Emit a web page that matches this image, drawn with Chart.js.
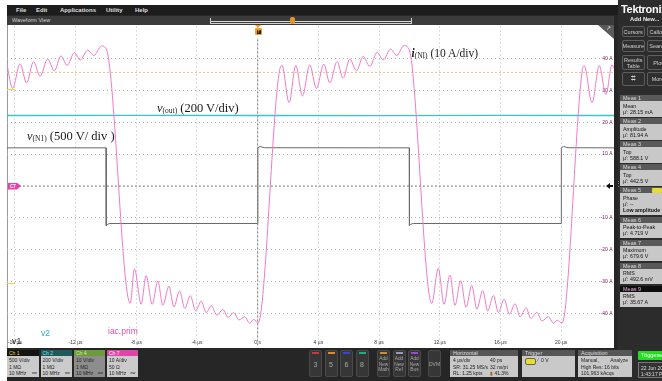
<!DOCTYPE html>
<html><head><meta charset="utf-8">
<script src="https://cdn.jsdelivr.net/npm/chart.js@4.4.1/dist/chart.umd.min.js"></script>
<style>
body{margin:0;width:662px;height:381px;overflow:hidden;background:#fff;position:relative;font-family:'Liberation Sans',Arial,sans-serif}
.a{position:absolute}
.mb{position:absolute;top:6px;font-size:6px;font-weight:bold;color:#ddd;line-height:8px}
.ser{position:absolute;font-family:'Liberation Serif','DejaVu Serif',serif;color:#1a1a1a;white-space:nowrap;line-height:13px}
.ser sub{font-size:7.5px;vertical-align:-1px}
.ch{position:absolute;top:350px;height:27px}
.ch .h{height:6px;font-size:5px;line-height:6px;padding-left:2px}
.ch .b{height:21px;background:#cbcbcb;font-size:5px;line-height:6.5px;color:#222;padding:1px 2px;box-sizing:border-box;position:relative}
.btn{position:absolute;top:350px;height:27px;background:#363636;border:1px solid #4a4a4a;border-radius:2px;box-sizing:border-box;color:#aaa;text-align:center}
.btn .bar{position:absolute;top:1px;left:2px;right:2px;height:1.5px}
.info{position:absolute;top:350px;height:27px}
.info .h{height:6px;background:#565656;color:#ddd;font-size:5.5px;line-height:6px;padding-left:3px}
.info .b{height:21px;background:#c9c9c9;color:#222;font-size:5px;line-height:6.5px;padding:1px 3px;box-sizing:border-box;position:relative;white-space:nowrap}
.rb{position:absolute;border:1px solid #5e5e5e;border-radius:2px;background:#2f2f2f;color:#cfcfcf;font-size:5.5px;text-align:center;box-sizing:border-box;display:flex;align-items:center;justify-content:center;line-height:6px}
.meas .h{height:6px;background:#595959;color:#ddd;font-size:5.5px;line-height:6px;padding-left:3px;position:relative}
.meas .b{height:15.5px;background:#c8c8c8;color:#111;font-size:5.3px;line-height:6.3px;padding:1.5px 3px;box-sizing:border-box;margin-bottom:1.5px;white-space:nowrap}
</style>
</head><body>
<div class="a" style="left:7px;top:5px;width:655px;height:376px;background:#262626"></div>
<div class="a" style="left:618px;top:0;width:44px;height:381px;background:#2c2c2c"></div>
<!-- menu bar -->
<div class="a" style="left:7px;top:5px;width:611px;height:10px;background:#1d1d1d"></div>
<div class="mb" style="left:16px">File</div>
<div class="mb" style="left:36px">Edit</div>
<div class="mb" style="left:60px">Applications</div>
<div class="mb" style="left:106px">Utility</div>
<div class="mb" style="left:135px">Help</div>
<!-- waveform view bar -->
<div class="a" style="left:7px;top:16px;width:607px;height:9px;background:#3b3b3b"></div>
<div class="a" style="left:12px;top:17px;font-size:5.5px;line-height:7px;color:#cfcfcf">Waveform View</div>
<div class="a" style="left:210px;top:17.5px;width:200px;height:5px;border:1px solid #cfcfcf;border-top:none;box-sizing:content-box"></div>
<div class="a" style="left:210px;top:20.5px;width:201px;height:1px;background:#d8d8d8"></div>
<div class="a" style="left:290px;top:17px;width:5px;height:7px;background:#e8902a;border-radius:2px"></div>
<!-- plot background -->
<div class="a" style="left:7px;top:25px;width:607px;height:323px;background:#fff;border-left:1px solid #9a9a9a;box-sizing:border-box"></div>
<canvas id="c" width="607" height="322" class="a" style="left:7px;top:25px;width:607px;height:322px"></canvas>
<!-- plot decorations -->
<div class="a" style="left:255px;top:25px;width:0;height:0;border-left:3.5px solid transparent;border-right:3.5px solid transparent;border-top:3px solid #f0a030"></div>
<div class="a" style="left:255px;top:28px;width:7px;height:7px;background:#f0a030;border-radius:1px"></div>
<div class="a" style="left:256.5px;top:29.5px;width:4px;height:4px;background:#222;color:#f0a030;font-size:4px;line-height:4px;text-align:center;font-weight:bold">T</div>
<div class="a" style="left:598px;top:25px;width:16px;height:14px;background:#5a5a5a;clip-path:polygon(0 0,100% 0,100% 100%)"></div>
<div class="a" style="left:606px;top:25px;font-size:6px;color:#eee;line-height:7px">↗</div>
<div class="a" style="left:8px;top:182.5px;width:13px;height:7px;background:#e044a6;clip-path:polygon(0 0,68% 0,100% 50%,68% 100%,0 100%);color:#fff;font-size:4.5px;line-height:7px;padding-left:2px;box-sizing:border-box;font-weight:bold">C7</div>
<div class="a" style="left:7px;top:89px;width:8px;height:1px;background:#e6dc3c"></div>
<div class="a" style="left:7px;top:282.5px;width:8px;height:1px;background:#e6dc3c"></div>
<div class="a" style="left:605.5px;top:183px;width:0;height:0;border-top:3px solid transparent;border-bottom:3px solid transparent;border-right:4px solid #111"></div>
<div class="a" style="left:609px;top:185px;width:4px;height:2px;background:#111"></div>
<div class="a" style="left:615px;top:180px;font-size:7px;color:#aaa;line-height:7px">⋮</div>
<!-- trace annotations -->
<div class="ser" style="left:157px;top:102px;font-size:12.5px"><i>v</i><sub>(out)</sub> (200 V/div)</div>
<div class="ser" style="left:27px;top:130px;font-size:12.5px"><i>v</i><sub>(N1)</sub> (500 V/ div )</div>
<div class="ser" style="left:411.5px;top:46.5px;font-size:11.5px"><b><i>i</i></b><sub>(NI)</sub> (10 A/div)</div>
<div class="a" style="left:41px;top:328px;font-size:8.5px;color:#22b5c5;line-height:10px">v2</div>
<div class="a" style="left:108px;top:326px;font-size:8.5px;color:#d055b0;line-height:10px">iac.prim</div>
<div class="a" style="left:12px;top:336px;font-size:9px;color:#333;line-height:10px">v1</div>
<!-- bottom strip: channels -->
<div class="ch" style="left:7px;width:32px"><div class="h" style="background:#141414;color:#e2d33c">Ch 1</div><div class="b">500 V/div<br>1 MΩ<br>10 MHz<span style="position:absolute;right:2px;bottom:1px;font-size:4px">ʙᴡ</span></div></div>
<div class="ch" style="left:40.5px;width:31.5px"><div class="h" style="background:#1d5b5d;color:#7fe0e0">Ch 2</div><div class="b">200 V/div<br>1 MΩ<br>10 MHz<span style="position:absolute;right:2px;bottom:1px;font-size:4px">ʙᴡ</span></div></div>
<div class="ch" style="left:74px;width:31px"><div class="h" style="background:#6c9a3c;color:#d8f0a0">Ch 4</div><div class="b" style="background:#8d8d8d">10 V/div<br>1 MΩ<br>10 MHz<span style="position:absolute;right:2px;bottom:1px;font-size:4px">ʙᴡ</span></div></div>
<div class="ch" style="left:107px;width:30.5px"><div class="h" style="background:#e044a6;color:#fff">Ch 7</div><div class="b">10 A/div<br>50 Ω<br>10 MHz<span style="position:absolute;right:2px;bottom:1px;font-size:4px">ʙᴡ</span></div></div>
<!-- buttons -->
<div class="btn" style="left:309px;width:13px"><div class="bar" style="background:#c83a3a"></div><div style="font-size:7px;line-height:27px">3</div></div>
<div class="btn" style="left:324.5px;width:13px"><div class="bar" style="background:#e0882a"></div><div style="font-size:7px;line-height:27px">5</div></div>
<div class="btn" style="left:340px;width:13px"><div class="bar" style="background:#3a46c8"></div><div style="font-size:7px;line-height:27px">6</div></div>
<div class="btn" style="left:355.5px;width:13px"><div class="bar" style="background:#22a884"></div><div style="font-size:7px;line-height:27px">8</div></div>
<div class="btn" style="left:377px;width:13px"><div class="bar" style="background:#d08a30"></div><div style="font-size:4.8px;line-height:5.5px;padding-top:5px">Add<br>New<br>Math</div></div>
<div class="btn" style="left:392.5px;width:13px"><div class="bar" style="background:#9a9ab8"></div><div style="font-size:4.8px;line-height:5.5px;padding-top:5px">Add<br>New<br>Ref</div></div>
<div class="btn" style="left:408px;width:13px"><div class="bar" style="background:#9a4ad0"></div><div style="font-size:4.8px;line-height:5.5px;padding-top:5px">Add<br>New<br>Bus</div></div>
<div class="btn" style="left:428px;width:13px"><div style="font-size:5px;line-height:27px">DVM</div></div>
<!-- info boxes -->
<div class="info" style="left:450px;width:68px"><div class="h">Horizontal</div><div class="b">4 µs/div<br>SR: 31.25 MS/s<br>RL: 1.25 kpts<div style="position:absolute;left:40px;top:1px">40 ps<br>32 ns/pt<br><span style="color:#b06010">▮</span> 41.3%</div></div></div>
<div class="info" style="left:522px;width:53px"><div class="h">Trigger</div><div class="b"><span style="display:inline-block;width:9px;height:5px;background:#e8dc30;border:1px solid #665;border-radius:2px;vertical-align:middle;margin-top:1px"></span> <span style="color:#3a5aa0">⁄</span>&nbsp; 0 V</div></div>
<div class="info" style="left:578px;width:54px"><div class="h">Acquisition</div><div class="b">Manual,<span style="position:absolute;right:4px">Analyze</span><br>High Res: 16 bits<br>101,963 kAcqs</div></div>
<div class="a" style="left:638px;top:351px;width:30px;height:9px;background:#22dd22;color:#fff;font-size:5.5px;line-height:9px;padding-left:3px;box-sizing:border-box;border-radius:1px">Triggered</div>
<div class="a" style="left:638px;top:362px;width:30px;height:16px;background:#333;border:1px solid #777;box-sizing:border-box;color:#ddd;font-size:5px;line-height:6px;padding:1.5px 2px;white-space:nowrap">22 Jun 2023<br>1:43:17 PM</div>
<!-- right panel -->
<div class="a" style="left:621px;top:3px;font-size:11px;font-weight:bold;color:#fff;letter-spacing:-0.3px;line-height:12px;white-space:nowrap">Tektronix</div>
<div class="a" style="left:630px;top:16px;font-size:5.8px;font-weight:bold;color:#eee;line-height:7px">Add New...</div>
<div class="rb" style="left:622px;top:26px;width:22.5px;height:11px">Cursors</div>
<div class="rb" style="left:647px;top:26px;width:22px;height:11px">Callout</div>
<div class="rb" style="left:622px;top:40px;width:22.5px;height:12px">Measure</div>
<div class="rb" style="left:647px;top:40px;width:22px;height:12px">Search</div>
<div class="rb" style="left:622px;top:55px;width:22.5px;height:15px">Results<br>Table</div>
<div class="rb" style="left:647px;top:55px;width:22px;height:15px">Plot</div>
<div class="rb" style="left:622px;top:72px;width:22.5px;height:14px;font-size:8px">⌗</div>
<div class="rb" style="left:647px;top:72px;width:22px;height:14px">More</div>
<div class="a meas" style="left:620px;top:95px;width:44px">
<div class="h">Meas 1</div><div class="b">Mean<br>µ': 28.15 mA</div>
<div class="h">Meas 2</div><div class="b">Amplitude<br>µ': 81.94 A</div>
<div class="h">Meas 3</div><div class="b">Top<br>µ': 588.1 V</div>
<div class="h">Meas 4</div><div class="b">Top<br>µ': 442.5 V</div>
<div class="h">Meas 5<span style="position:absolute;left:32px;top:0.5px;width:10px;height:5px;background:#e8dc30;border-radius:1px"></span></div><div class="b" style="height:22px">Phase<br>µ': --<br><b>Low amplitude</b></div>
<div class="h">Meas 6</div><div class="b">Peak-to-Peak<br>µ': 4.719 V</div>
<div class="h">Meas 7</div><div class="b">Maximum<br>µ': 679.6 V</div>
<div class="h">Meas 8</div><div class="b">RMS<br>µ': 492.6 mV</div>
<div class="h" style="background:#0e0e0e;color:#f0b0dc">Meas 9</div><div class="b">RMS<br>µ': 35.67 A</div>
</div>
<script>
// ---- axes / ticks ----
const timeWindowUs = [-16.52, 23.48];
const xTickValues = [-16, -12, -8, -4, 0, 4, 8, 12, 16, 20];
const xTickLabels = ['-16 µs', '-12 µs', '-8 µs', '-4 µs', '0 s', '4 µs', '8 µs', '12 µs', '16 µs', '20 µs'];
const yTickValues = [-40, -30, -20, -10, 0, 10, 20, 30, 40];
const yTickLabels = ['-40 A', '-30 A', '-20 A', '-10 A', '', '10 A', '20 A', '30 A', '40 A'];
const ch7RangeA = [-50, 50];     // 10 A/div
const ch1RangeV = [-2500, 2500]; // 500 V/div
const ch2RangeV = [-1000, 1000]; // 200 V/div

// ---- Ch7 : i(N1) ----
const iN1Time = [-16.52, -16.15, -15.66, -15.23, -14.77, -14.34, -13.84, -13.40, -12.96, -12.56, -12.08, -11.70, -11.20, -10.81, -10.28, -9.95,
  -8.40, -8.12, -7.68, -7.35, -6.95, -6.58, -6.25, -5.85, -5.52, -5.15, -4.80, -4.44, -4.09, -3.72, -3.39, -3.06, -2.69, -2.29, -1.96, -1.58, -1.23, -0.86, -0.53, -0.26, 0.02,
  1.49, 1.60, 2.07, 2.51, 2.95, 3.43, 3.87, 4.36, 4.75, 5.23, 5.63, 6.07, 6.51, 6.95, 7.39, 7.87, 8.27, 8.76, 9.16, 9.64, 9.99,
  11.47, 11.90, 12.28, 12.67, 13.00, 13.38, 13.73, 14.11, 14.44, 14.83, 15.16, 15.53, 15.86, 16.24, 16.59, 16.96, 17.29, 17.69, 18.00, 18.40, 18.73, 19.16, 19.49, 19.74, 20.05,
  21.40, 21.52, 22.03, 22.51, 22.95, 23.35, 23.48];
const iN1Amps = [38.1, 30.6, 38.3, 32.3, 39.0, 34.4, 39.8, 36.1, 40.8, 37.8, 41.8, 39.5, 42.6, 40.9, 43.9, 42.6,
  -36.8, -26.0, -37.1, -28.1, -37.1, -29.8, -37.4, -31.4, -37.9, -32.9, -38.4, -34.4, -39.1, -36.1, -39.7, -37.5, -40.5, -38.7, -41.2, -39.7, -42.0, -41.0, -43.0, -41.8, -43.0,
  37.2, 37.8, 26.1, 37.8, 28.2, 38.0, 30.6, 38.2, 32.3, 39.0, 33.8, 39.8, 36.1, 40.6, 37.5, 41.9, 39.5, 42.9, 40.9, 44.0, 42.6,
  -36.8, -25.8, -37.1, -27.9, -37.4, -29.7, -38.0, -31.2, -38.6, -32.8, -39.2, -34.3, -39.6, -35.5, -40.2, -36.9, -41.0, -38.2, -41.5, -39.6, -42.3, -41.0, -43.0, -42.1, -43.0,
  36.5, 37.7, 26.1, 37.7, 28.7, 38.0, 37.0];

// ---- Ch1 : v(N1) ----
const vN1Time = [-16.52, -9.99, -9.98, -9.88, -9.75, 0.00, 0.01, 0.15, 0.45, 9.99, 10.00, 10.10, 10.25, 20.00, 20.01, 20.15, 20.45, 23.48];
const vN1Volts = [598, 598, -622, -598, -588, -588, 598, 620, 600, 598, -622, -598, -588, -588, 598, 620, 600, 598];

// ---- Ch2 : v(out) ----
const vOutTime = [-16.52, -8, 0, 8, 16, 23.48];
const vOutVolts = [442, 443, 442, 441, 443, 442];

// ---- markers ----
const levelTime = [-16.52, 23.48];
const levelAmps = [35.6, 35.6];
const zeroTime = [-16.52, 23.48];
const zeroAmps = [0, 0];
const trigTime = [0, 0];
const trigAmps = [-50, 46.5];

const pair = (xs, ys) => xs.map((x, i) => ({x: x, y: ys[i]}));
const line = (label, xs, ys, axis, color, extra) =>
  Object.assign({label: label, data: pair(xs, ys), yAxisID: axis, borderColor: color,
    pointRadius: 0, borderWidth: 1, fill: false, tension: 0}, extra || {});

new Chart(document.getElementById('c'), {
  type: 'line',
  data: {datasets: [
    line('iac.prim', iN1Time, iN1Amps, 'yA', '#ee7cc6', {cubicInterpolationMode: 'monotone'}),
    line('v1', vN1Time, vN1Volts, 'yV1', '#6a6a6a'),
    line('v2', vOutTime, vOutVolts, 'yV2', '#36c3d2', {borderWidth: 1.3}),
    line('level', levelTime, levelAmps, 'yA', '#f4c080', {borderDash: [2, 2]}),
    line('zero', zeroTime, zeroAmps, 'yA', '#8a8a8a', {borderDash: [2, 2]}),
    line('trigger', trigTime, trigAmps, 'yA', '#7a7a7a', {borderDash: [2, 2]})
  ]},
  options: {
    responsive: false, animation: false, devicePixelRatio: 1, events: [],
    layout: {padding: 0},
    plugins: {legend: {display: false}, tooltip: {enabled: false}},
    scales: {
      x: {
        type: 'linear', position: 'bottom', min: timeWindowUs[0], max: timeWindowUs[1],
        afterBuildTicks: s => { s.ticks = xTickValues.map(v => ({value: v})); },
        afterFit: s => { s.height = 0; },
        ticks: {mirror: true, padding: 0, autoSkip: false, maxRotation: 0, color: '#3a3a3a',
          font: {size: 5, family: 'Liberation Sans'}, callback: (v, i) => xTickLabels[i]},
        grid: {color: '#b8b8b8', drawTicks: false},
        border: {display: false, dash: [1, 3]}
      },
      yA: {
        type: 'linear', position: 'right', min: ch7RangeA[0], max: ch7RangeA[1],
        afterBuildTicks: s => { s.ticks = yTickValues.map(v => ({value: v})); },
        afterFit: s => { s.width = 0; },
        ticks: {mirror: true, padding: -1.5, color: '#8a2868',
          font: {size: 5, family: 'Liberation Sans'}, callback: (v, i) => yTickLabels[i]},
        grid: {color: '#b8b8b8', drawTicks: false},
        border: {display: false, dash: [1, 3]}
      },
      yV1: {type: 'linear', display: false, min: ch1RangeV[0], max: ch1RangeV[1]},
      yV2: {type: 'linear', display: false, min: ch2RangeV[0], max: ch2RangeV[1]}
    }
  }
});
</script>
</body></html>
